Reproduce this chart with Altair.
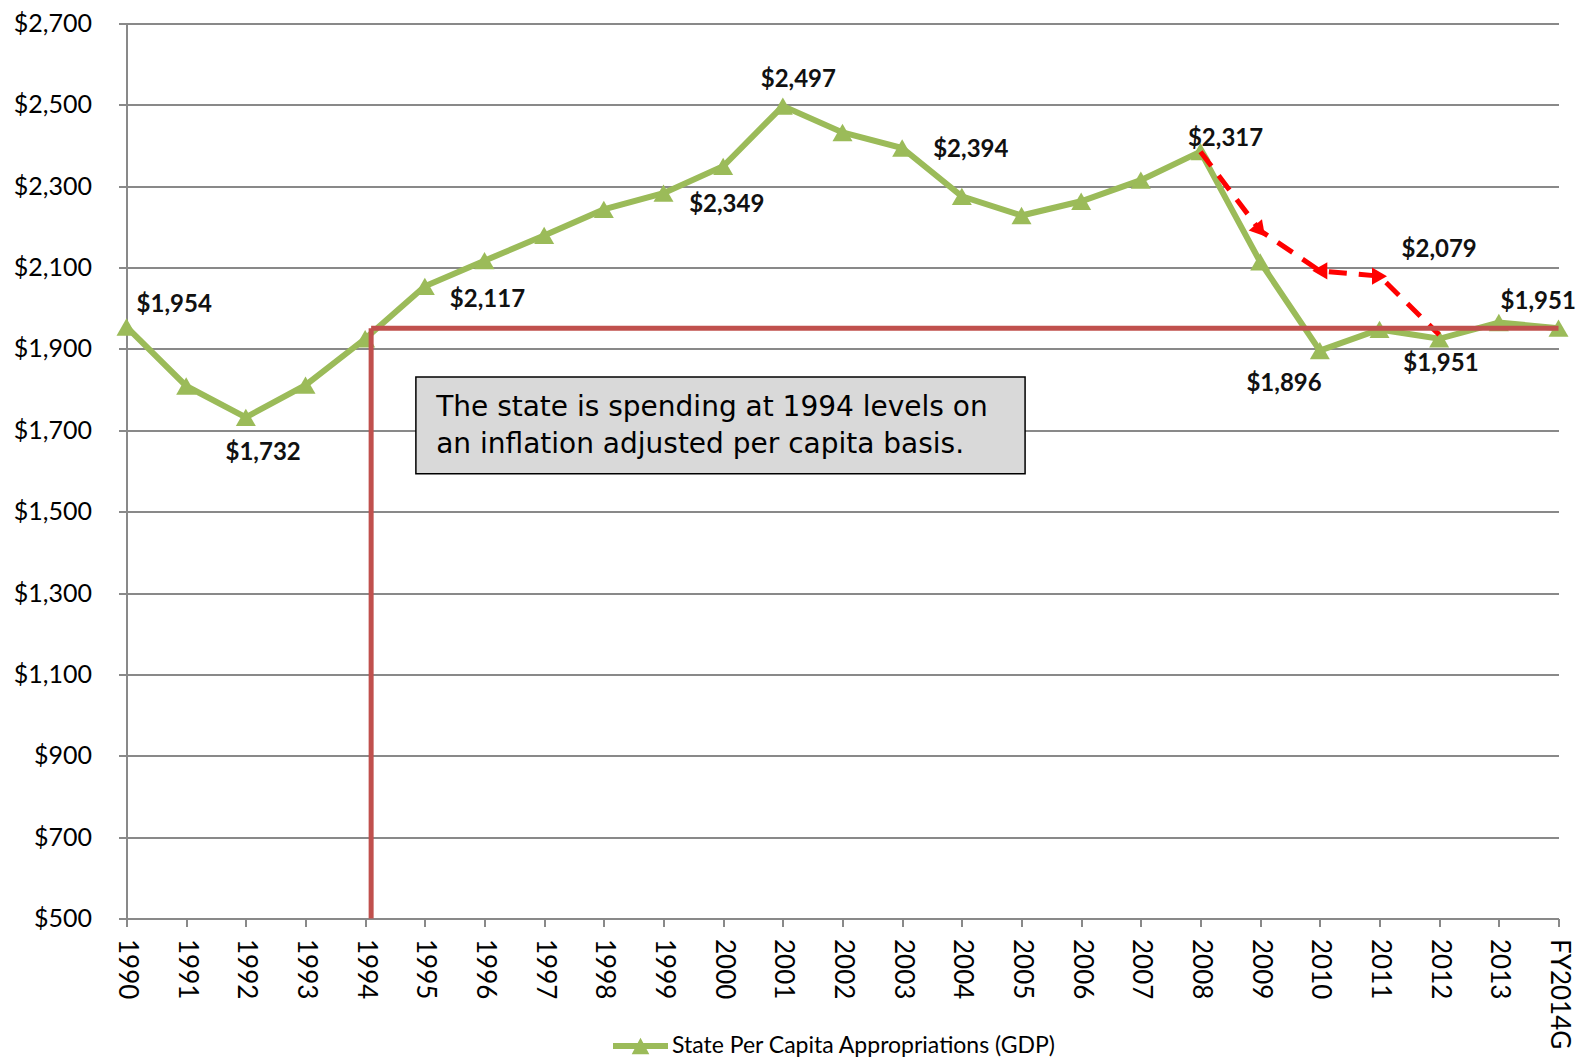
import altair as alt
import pandas as pd

# ---------------- data ----------------
years = ["1990", "1991", "1992", "1993", "1994", "1995", "1996", "1997", "1998",
         "1999", "2000", "2001", "2002", "2003", "2004", "2005", "2006", "2007",
         "2008", "2009", "2010", "2011", "2012", "2013", "FY2014G"]
spending = [1954, 1809, 1732, 1811, 1925, 2054, 2117, 2179, 2243, 2283, 2349, 2497,
            2432, 2394, 2275, 2228, 2263, 2315, 2385, 2114, 1896, 1948, 1925, 1965, 1951]
series_name = "State Per Capita Appropriations (GDP)"

# red dashed projection (2008 .. 2012)
proj_idx = [18, 19, 20, 21, 22]
proj_vals = [2385, 2191, 2092, 2079, 1935]

# 1994 level reference
level_value = 1951
level_x = 4.1

# data labels: text, x position (year index), y position ($)
label_text = ["$1,954", "$1,732", "$2,117", "$2,349", "$2,497", "$2,394", "$2,317",
              "$1,896", "$2,079", "$1,951", "$1,951"]
label_x = [0.80, 2.29, 6.05, 10.06, 11.26, 14.15, 18.42, 19.40, 22.0, 22.03, 23.66]
label_y = [2007, 1645, 2020, 2253, 2561, 2390, 2417, 1814, 2144, 1863, 2015]

# annotation box
note_lines = ["The state is spending at 1994 levels on",
              "an inflation adjusted per capita basis."]

# ---------------- tables ----------------
n = len(years)
df_main = pd.DataFrame({"i": list(range(n)), "v": spending, "series": [series_name] * n})
df_proj = pd.DataFrame({"i": proj_idx, "v": proj_vals})
df_proj_pts = df_proj.iloc[1:4].copy()
df_proj_pts["ang"] = [140, 270, 90]
df_h = pd.DataFrame({"x": [level_x], "x2": [n - 1], "y": [level_value]})
df_v = pd.DataFrame({"x": [level_x], "y": [500], "y2": [level_value]})
df_labels = pd.DataFrame({"t": label_text, "x": label_x, "y": label_y})
df_box = pd.DataFrame({"x": [4.85], "x2": [15.06], "y": [1831], "y2": [1593]})
df_note = pd.DataFrame({"t": note_lines, "x": [5.19, 5.19], "y": [1754, 1665]})

GREEN = "#9BBB59"
GRID = "#898989"
label_expr = "[" + ",".join("'%s'" % y for y in years) + "][datum.value]"

xscale = alt.Scale(domain=[0, n - 1], nice=False, zero=False)
yscale = alt.Scale(domain=[500, 2700], nice=False, zero=False)

x_axis = alt.Axis(values=list(range(n)), labelExpr=label_expr, labelAngle=90,
                  labelFont="Lato", labelFontSize=26, labelColor="black",
                  labelPadding=12, tickSize=8, tickColor=GRID, tickWidth=2,
                  domainColor=GRID, domainWidth=2, grid=False, title=None,
                  labelOverlap=False, labelBaseline="middle", labelAlign="left")
y_axis = alt.Axis(values=list(range(500, 2701, 200)), format="$,d",
                  labelFont="Lato", labelFontSize=25, labelColor="black",
                  labelPadding=27, tickSize=8, tickColor=GRID, tickWidth=2,
                  domainColor=GRID, domainWidth=2, grid=True, gridColor=GRID,
                  gridWidth=2, title=None)

base_x = alt.X("i:Q", scale=xscale, axis=x_axis)
base_y = alt.Y("v:Q", scale=yscale, axis=y_axis)

green_line = alt.Chart(df_main).mark_line(color=GREEN, strokeWidth=6).encode(
    x=base_x, y=base_y)

legend_path = "M-1,-0.11L1,-0.11L1,0.11L-1,0.11Z M-0.32,0.3L0,-0.3L0.32,0.3Z"
green_pts = alt.Chart(df_main).mark_point(
    shape="triangle-up", filled=True, size=400, opacity=1).encode(
    x=alt.X("i:Q", scale=xscale),
    y=alt.Y("v:Q", scale=yscale),
    color=alt.Color("series:N", scale=alt.Scale(domain=[series_name], range=[GREEN]),
                    legend=alt.Legend(orient="none", legendX=486.5, legendY=995,
                                      title=None, symbolType=legend_path,
                                      symbolSize=3025, symbolStrokeWidth=0,
                                      labelFont="Lato", labelFontSize=23,
                                      labelColor="black", labelOffset=4,
                                      padding=0, labelLimit=700)))

h_rule = alt.Chart(df_h).mark_rule(color="#C0504D", strokeWidth=5).encode(
    x=alt.X("x:Q", scale=xscale), x2="x2:Q", y=alt.Y("y:Q", scale=yscale))
v_rule = alt.Chart(df_v).mark_rule(color="#C0504D", strokeWidth=5).encode(
    x=alt.X("x:Q", scale=xscale), y=alt.Y("y:Q", scale=yscale), y2="y2:Q")

proj_line = alt.Chart(df_proj).mark_line(color="#FF0000", strokeWidth=5,
                                          strokeDash=[18, 12]).encode(
    x=alt.X("i:Q", scale=xscale), y=alt.Y("v:Q", scale=yscale))
proj_pts = alt.Chart(df_proj_pts).mark_point(
    shape="triangle-up", filled=True, size=300, color="#FF0000", opacity=1).encode(
    x=alt.X("i:Q", scale=xscale), y=alt.Y("v:Q", scale=yscale),
    angle=alt.Angle("ang:Q", scale=None))

box = alt.Chart(df_box).mark_rect(fill="#D9D9D9", stroke="black", strokeWidth=1.5).encode(
    x=alt.X("x:Q", scale=xscale), x2="x2:Q",
    y=alt.Y("y:Q", scale=yscale), y2="y2:Q")
note = alt.Chart(df_note).mark_text(align="left", baseline="middle", font="DejaVu Sans",
                                    fontSize=28, color="black").encode(
    x=alt.X("x:Q", scale=xscale), y=alt.Y("y:Q", scale=yscale), text="t:N")

labels = alt.Chart(df_labels).mark_text(align="center", baseline="middle", font="Lato",
                                        fontWeight="bold", fontSize=24,
                                        color="#111111").encode(
    x=alt.X("x:Q", scale=xscale), y=alt.Y("y:Q", scale=yscale), text="t:N")

chart = alt.layer(green_line, green_pts, proj_line, proj_pts, h_rule, v_rule,
                  box, note, labels).properties(
    width=1432, height=895,
    padding={"left": 118.5, "top": 15.5, "right": 20, "bottom": 140},
    autosize=alt.AutoSizeParams(type="none"),
    background="white",
).configure_view(stroke=None)

chart.save("out.html", embed_options={"renderer": "svg", "actions": False})
